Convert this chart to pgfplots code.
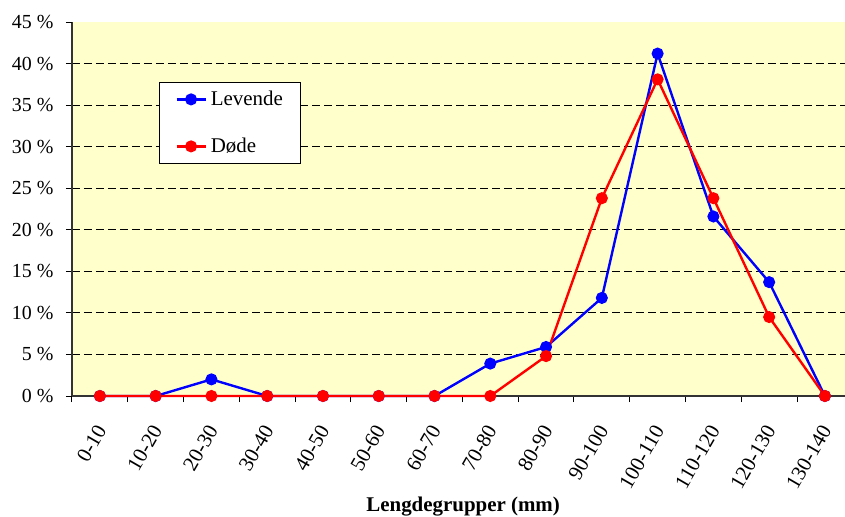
\documentclass[border=0pt]{standalone}
\usepackage{pgfplots}
\pgfplotsset{compat=1.18}
\usepackage{fontspec}
\setmainfont{Liberation Serif}
\definecolor{bgyellow}{RGB}{255,255,204}
\begin{document}
\begin{tikzpicture}
\begin{axis}[
  scale only axis, width=773bp, height=374bp,
  xmin=-0.5, xmax=13.36, ymin=0, ymax=45,
  axis x line*=bottom, axis y line*=left,
  axis line style={-, black!80, line width=1.2bp},
  axis background/.style={fill=bgyellow},
  tick align=outside,
  xtick={0,...,13},
  xticklabels={0-10,10-20,20-30,30-40,40-50,50-60,60-70,70-80,80-90,90-100,100-110,110-120,120-130,130-140},
  major x tick style={draw=none},
  minor xtick={-0.5,0.5,...,12.5},
  minor tick length=6bp,
  minor x tick style={black, line width=1bp},
  xticklabel style={font=\fontsize{21}{23}\selectfont, xshift=3bp, yshift=-22bp, rotate=60, anchor=east},
  ytick={0,5,...,40},
  extra y ticks={45},
  extra y tick style={grid=none},
  yticklabel={\pgfmathparse{int(\tick)}\pgfmathresult~\%},
  yticklabel style={font=\fontsize{20}{22}\selectfont, xshift=-9bp},
  major tick length=6bp,
  major y tick style={black, line width=1bp},
  ymajorgrids,
  major grid style={black, line width=0.9bp, dash pattern=on 8bp off 4bp},
  xlabel={\textbf{Lengdegrupper (mm)}},
  xlabel style={font=\fontsize{21}{23}\selectfont, at={(axis description cs:0.506,0)}, anchor=center, yshift=-111bp},
  legend style={at={(0.1125,0.8396)}, anchor=north west, draw=black, line width=0.8bp, fill=white,
    font=\fontsize{21}{24}\selectfont, row sep=27bp, inner xsep=16bp, inner ysep=7bp},
  legend cell align=left,
  legend image code/.code={\draw[mark repeat=2,mark phase=2,#1] plot coordinates {(0bp,0bp)(14.5bp,0bp)(29bp,0bp)}; \path (31bp,0bp);},
  clip=false,
]
\addplot[blue, line width=2.4bp, mark=*, mark size=4.8bp, mark options={solid, fill=blue, draw=blue}]
  coordinates {(0,0)(1,0)(2,2.0)(3,0)(4,0)(5,0)(6,0)(7,3.9)(8,5.9)(9,11.8)(10,41.2)(11,21.6)(12,13.7)(13,0)};
\addlegendentry{Levende}
\addplot[red, line width=2.4bp, mark=*, mark size=4.8bp, mark options={solid, fill=red, draw=red}]
  coordinates {(0,0)(1,0)(2,0)(3,0)(4,0)(5,0)(6,0)(7,0)(8,4.8)(9,23.8)(10,38.1)(11,23.8)(12,9.5)(13,0)};
\addlegendentry{Døde}
\coordinate (sw) at (rel axis cs:0,0);
\end{axis}
\pgfresetboundingbox
\useasboundingbox ([shift={(-72bp,-121bp)}]sw) rectangle ([shift={(773bp,396bp)}]sw);
\end{tikzpicture}
\end{document}
